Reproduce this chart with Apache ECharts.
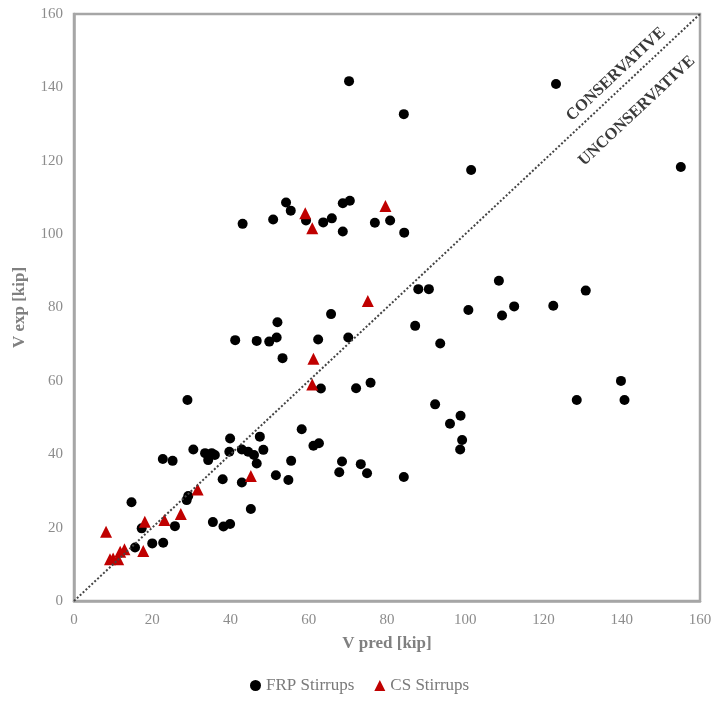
<!DOCTYPE html>
<html>
<head>
<meta charset="utf-8">
<script src="https://cdn.jsdelivr.net/npm/echarts@6/dist/echarts.min.js"></script>
<style>html,body{margin:0;padding:0;background:#fff;}#main{width:715px;height:705px;}</style>
</head>
<body>
<div id="main"></div>
<script>
const frpX = [70.3,123.2,84.3,101.5,155.1,
  54.2,55.4,43.1,50.9,59.3,63.7,65.9,68.7,70.5,68.7,76.9,80.8,84.4,
  52.0,41.2,46.7,49.9,51.8,53.3,29.0,88.0,90.7,108.6,100.8,109.4,112.5,87.2,93.6,65.7,62.4,70.1,63.1,72.1,75.8,92.3,130.8,122.5,139.8,128.5,140.7,
  39.9,47.5,30.5,22.7,25.2,33.5,35.2,34.3,36.0,39.7,42.9,44.5,46.0,48.4,46.7,55.5,38.0,42.9,51.6,54.8,14.7,29.2,28.8,45.2,35.5,38.2,39.9,25.8,17.3,15.6,20.0,22.8,
  58.2,61.2,62.6,68.5,67.8,73.3,74.9,84.3,96.1,98.8,99.2,98.7];
const frpY = [141.7,140.9,132.7,117.5,118.3,
  108.6,106.4,102.8,104.0,103.7,103.2,104.3,108.4,109.1,100.7,103.1,103.7,100.4,
  76.0,71.1,70.9,70.7,71.8,66.2,54.8,85.0,85.0,87.3,79.3,77.8,80.3,75.0,70.2,78.2,71.3,71.8,57.9,58.0,59.5,53.6,84.6,80.5,60.0,54.8,54.8,
  44.3,44.8,41.3,38.7,38.2,40.3,40.3,38.4,39.8,40.7,41.3,40.7,39.8,41.2,37.5,38.2,33.2,32.3,34.3,33.0,26.9,28.6,27.5,25.1,21.5,20.3,21.0,20.4,19.8,14.6,15.7,15.9,
  46.8,42.3,43.0,38.0,35.1,37.3,34.8,33.8,48.3,50.5,43.9,41.3];
const csX = [59.1,60.9,79.6,75.1,61.2,60.9,45.2,31.6,27.3,23.1,18.1,8.2,17.7,12.9,11.8,10.0,9.2,11.3];
const csY = [105.7,101.6,107.7,81.8,66.0,59.0,34.1,30.4,23.7,22.1,21.6,18.9,13.6,14.1,13.4,11.6,11.4,11.4];
const axisTicks = [0,20,40,60,80,100,120,140,160];
const seriesNames = ['FRP Stirrups','CS Stirrups'];
const xName = 'V pred [kip]';
const yName = 'V exp [kip]';
const lineLabels = ['CONSERVATIVE','UNCONSERVATIVE'];

const zip = (a,b) => a.map((v,i)=>[v,b[i]]);
const serif = '"Liberation Serif","DejaVu Serif",serif';
const chart = echarts.init(document.getElementById('main'));
const axisCommon = {
  type:'value', min:0, max:160, interval:20,
  axisLine:{show:true, lineStyle:{color:'#a6a6a6', width:2.5}},
  axisTick:{show:false}, splitLine:{show:false},
  axisLabel:{color:'#8c8c8c', fontFamily:serif, fontSize:15},
  nameLocation:'middle',
  nameTextStyle:{color:'#808080', fontFamily:serif, fontSize:17, fontWeight:'bold'}
};
chart.setOption({
  animation:false,
  backgroundColor:'#fff',
  grid:{left:74, top:14, right:15, bottom:104, show:true, borderColor:'#a6a6a6', borderWidth:2.5, containLabel:false},
  xAxis:Object.assign({}, axisCommon, {name:xName, nameGap:34, axisLabel:Object.assign({}, axisCommon.axisLabel, {margin:12})}),
  yAxis:Object.assign({}, axisCommon, {name:yName, nameGap:46, axisLabel:Object.assign({}, axisCommon.axisLabel, {margin:11})}),
  legend:{
    data:[{name:seriesNames[0], icon:'circle'},{name:seriesNames[1], icon:'triangle'}],
    bottom:6, left:245, itemWidth:11, itemHeight:11, itemGap:20,
    textStyle:{color:'#7a7a7a', fontFamily:serif, fontSize:17}
  },
  series:[
    {name:'diag', type:'scatter', data:[], silent:true,
     markLine:{silent:true, symbol:'none', animation:false,
       data:[
         [{coord:[0,0], lineStyle:{type:'dotted', color:'#444', width:2},
           label:{show:true, position:'insideEndTop', formatter:lineLabels[0], distance:[38,5], color:'#3a3a3a', fontFamily:serif, fontSize:16.5, fontWeight:'bold'}},
          {coord:[160,160]}],
         [{coord:[0,0], lineStyle:{color:'rgba(0,0,0,0)', width:1, type:'solid'},
           label:{show:true, position:'insideEndBottom', formatter:lineLabels[1], distance:[36,19], color:'#3a3a3a', fontFamily:serif, fontSize:16.5, fontWeight:'bold'}},
          {coord:[160,160]}]
       ]}
    },
    {name:seriesNames[0], type:'scatter', symbol:'circle', symbolSize:10, itemStyle:{color:'#000', opacity:1}, data:zip(frpX,frpY), z:3},
    {name:seriesNames[1], type:'scatter', symbol:'triangle', symbolSize:12, itemStyle:{color:'#c00000', opacity:1}, data:zip(csX,csY), z:4}
  ]
});
</script>
</body>
</html>
